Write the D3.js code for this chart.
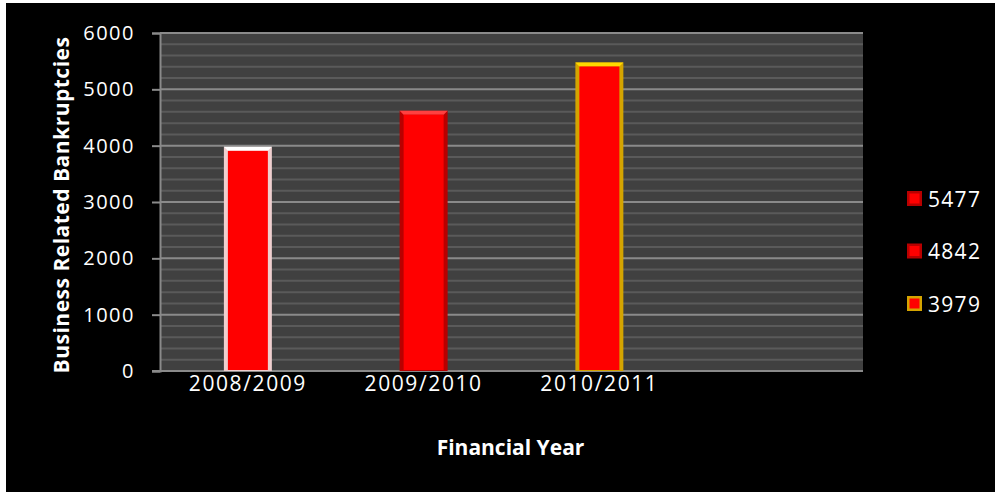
<!DOCTYPE html>
<html>
<head>
<meta charset="utf-8">
<script src="https://cdn.jsdelivr.net/npm/d3@7"></script>
<style>
  body { margin: 0; background: #fff; }
  svg { display: block; }
  text { font-family: "Open Sans", sans-serif; fill: #fff; }
</style>
</head>
<body>
<div id="chart"></div>
<script>
// bankruptcies per financial year (4th slot is empty in the original)
const categories = ["2008/2009", "2009/2010", "2010/2011", ""];
const values = [3979, 4620, 5477];
const edgeColors = ["#efcfcf", "#b80000", "#d4a400"];
const legendLabels = ["5477", "4842", "3979"];
const legendEdges = ["#b80000", "#b80000", "#d4a400"];
const yTicks = [0, 1000, 2000, 3000, 4000, 5000, 6000];

const width = 995, height = 492;
const plotL = 160, plotR = 863, plotT = 33, plotB = 371;

const svg = d3.select("#chart").append("svg")
  .attr("width", width)
  .attr("height", height);

// black panel, white strip on top/left like the screenshot
svg.append("rect")
  .attr("x", 6).attr("y", 3)
  .attr("width", width - 6).attr("height", height - 3)
  .attr("fill", "#000");

let x = d3.scaleBand()
  .domain(categories)
  .range([plotL, plotR]);

let y = d3.scaleLinear()
  .domain([0, 6000])
  .range([plotB, plotT]);

svg.append("rect")
  .attr("x", plotL).attr("y", plotT)
  .attr("width", plotR - plotL).attr("height", plotB - plotT)
  .attr("fill", "#404040");

// minor grid every 200
svg.append("g")
  .selectAll("line")
  .data(d3.range(200, 6000, 200).filter(v => v % 1000 != 0))
  .enter()
  .append("line")
    .attr("x1", plotL).attr("x2", plotR)
    .attr("y1", d => y(d)).attr("y2", d => y(d))
    .attr("stroke", "#5a5a5a")
    .attr("stroke-width", 2);

// major grid
svg.append("g")
  .selectAll("line")
  .data(yTicks.filter(v => v > 0))
  .enter()
  .append("line")
    .attr("x1", plotL).attr("x2", plotR)
    .attr("y1", d => y(d)).attr("y2", d => y(d))
    .attr("stroke", "#8a8a8a")
    .attr("stroke-width", 2);

let axeY = d3.axisLeft(y).tickValues(yTicks).tickFormat(d3.format("d"))
  .tickSize(8).tickPadding(17);
let gy = svg.append("g")
  .attr("transform", `translate(${plotL},0)`)
  .call(axeY);
gy.select(".domain").attr("stroke", "#8a8a8a").attr("stroke-width", 2);
gy.selectAll(".tick line").attr("stroke", "#8a8a8a").attr("stroke-width", 2);
gy.selectAll(".tick text")
  .attr("fill", "#fff")
  .style("font-size", "20px")
  .attr("letter-spacing", "1.5px");

let axeX = d3.axisBottom(x).tickSize(0).tickPadding(5);
let gx = svg.append("g")
  .attr("transform", `translate(0,${plotB})`)
  .call(axeX);
gx.select(".domain").attr("stroke", "#8a8a8a").attr("stroke-width", 2)
  .attr("d", `M${plotL - 8},0H${plotR}`);
gx.selectAll(".tick text")
  .attr("fill", "#fff")
  .style("font-size", "21px")
  .attr("letter-spacing", "1.6px");

// bars: bevelled edge + red face
const bw = x.bandwidth() * 0.273;
const inset = 4;
let bars = svg.selectAll(".bar")
  .data(values)
  .enter()
  .append("g")
    .attr("class", "bar");

bars.append("rect")
  .attr("x", (d, i) => x(categories[i]) + (x.bandwidth() - bw) / 2)
  .attr("y", d => y(d))
  .attr("width", bw)
  .attr("height", d => plotB - y(d))
  .attr("fill", (d, i) => edgeColors[i]);

bars.append("path")
  .attr("d", (d, i) => {
    let x0 = x(categories[i]) + (x.bandwidth() - bw) / 2, y0 = y(d);
    return `M${x0},${y0}H${x0 + bw}L${x0 + bw - inset},${y0 + inset}H${x0 + inset}Z`;
  })
  .attr("fill", (d, i) => i == 0 ? "#ffffff" : i == 1 ? "#ff4040" : "#ffd800");

bars.append("rect")
  .attr("x", (d, i) => x(categories[i]) + (x.bandwidth() - bw) / 2 + inset)
  .attr("y", d => y(d) + inset)
  .attr("width", bw - 2 * inset)
  .attr("height", d => plotB - y(d) - inset - 1)
  .attr("fill", "#ff0000");

// axis titles
svg.append("text")
  .attr("x", (plotL + plotR) / 2 - 1)
  .attr("y", 455)
  .attr("text-anchor", "middle")
  .style("font-size", "21px")
  .style("font-weight", "bold")
  .text("Financial Year");

svg.append("text")
  .attr("transform", `translate(69,${(plotT + plotB) / 2 + 3}) rotate(-90)`)
  .attr("text-anchor", "middle")
  .style("font-size", "21px")
  .style("font-weight", "bold")
  .attr("letter-spacing", "0.5px")
  .text("Business Related Bankruptcies");

// legend
let leg = svg.selectAll(".leg")
  .data(legendLabels)
  .enter()
  .append("g")
    .attr("class", "leg")
    .attr("transform", (d, i) => `translate(907,${191 + i * 52.5})`);

leg.append("rect")
  .attr("width", 15).attr("height", 15)
  .attr("fill", (d, i) => legendEdges[i]);
leg.append("rect")
  .attr("x", 2.5).attr("y", 2.5)
  .attr("width", 10).attr("height", 10)
  .attr("fill", "#ff0000");

leg.append("text")
  .attr("x", 21)
  .attr("y", 15.5)
  .style("font-size", "21px")
  .attr("letter-spacing", "1.3px")
  .text(d => d);
</script>
</body>
</html>
